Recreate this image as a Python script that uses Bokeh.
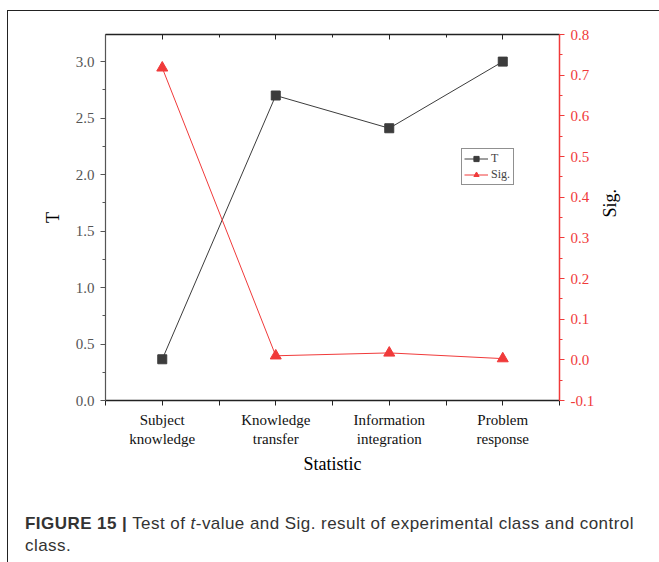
import math
from bokeh.plotting import figure
from bokeh.layouts import column
from bokeh.models import (Range1d, LinearAxis, FixedTicker, SingleIntervalTicker,
                          NumeralTickFormatter, Legend, LegendItem, Div)
from bokeh.embed import file_html
from bokeh.resources import INLINE

categories = ["Subject\nknowledge", "Knowledge\ntransfer", "Information\nintegration", "Problem\nresponse"]
positions = [1, 2, 3, 4]
t_values = [0.365, 2.70, 2.41, 3.00]
sig_values = [0.718, 0.010, 0.017, 0.003]

SERIF = "Liberation Serif"
RED = "#f03a3a"
DARK = "#3c3c3c"

p = figure(width=652, height=475, output_backend="svg", toolbar_location=None,
           x_range=Range1d(0.5, 4.5), y_range=Range1d(0, 3.24),
           min_border_left=97, min_border_right=101, min_border_top=23, min_border_bottom=86,
           x_axis_location=None, y_axis_location=None)
p.grid.visible = False
p.outline_line_color = None
p.background_fill_color = "white"
p.border_fill_color = "white"
p.extra_y_ranges = {"sig": Range1d(-0.1, 0.8)}

xt = FixedTicker(ticks=positions, minor_ticks=[0.5, 1.5, 2.5, 3.5, 4.5])

xaxis = LinearAxis(ticker=xt, axis_label="Statistic",
                   major_label_overrides={pos: lab for pos, lab in zip(positions, categories)})
xaxis.axis_label_text_font = SERIF
xaxis.axis_label_text_font_style = "normal"
xaxis.axis_label_text_font_size = "18px"
xaxis.axis_label_text_color = "black"
xaxis.axis_label_standoff = 4
xaxis.major_label_text_font = SERIF
xaxis.major_label_text_font_size = "15px"
xaxis.major_label_text_color = "#111111"
xaxis.major_label_standoff = 6
xaxis.major_tick_in = 0
xaxis.major_tick_out = 5
xaxis.minor_tick_in = 0
xaxis.minor_tick_out = 5
xaxis.axis_line_color = "#222222"
xaxis.axis_line_width = 1.5
xaxis.major_tick_line_color = "#222222"
xaxis.minor_tick_line_color = "#222222"
p.add_layout(xaxis, "below")

top = LinearAxis(ticker=xt, major_label_overrides={pos: "" for pos in positions})
top.major_tick_in = 5
top.major_tick_out = 0
top.minor_tick_in = 3
top.minor_tick_out = 0
top.axis_line_color = "#222222"
top.axis_line_width = 1.5
top.major_tick_line_color = "#222222"
top.minor_tick_line_color = "#222222"
top.major_label_standoff = 0
p.add_layout(top, "above")

yaxis = LinearAxis(ticker=SingleIntervalTicker(interval=0.5, num_minor_ticks=2),
                   formatter=NumeralTickFormatter(format="0.0"), axis_label="T")
yaxis.axis_label_text_font = SERIF
yaxis.axis_label_text_font_style = "normal"
yaxis.axis_label_text_font_size = "18px"
yaxis.axis_label_text_color = "black"
yaxis.axis_label_standoff = 10
yaxis.major_label_text_font = SERIF
yaxis.major_label_text_font_size = "15px"
yaxis.major_label_text_color = "#555555"
yaxis.major_label_standoff = 6
yaxis.major_tick_in = 0
yaxis.major_tick_out = 5
yaxis.minor_tick_in = 0
yaxis.minor_tick_out = 3
yaxis.axis_line_color = "#555555"
yaxis.axis_line_width = 1.2
yaxis.major_tick_line_color = "#555555"
yaxis.minor_tick_line_color = "#555555"
p.add_layout(yaxis, "left")

raxis = LinearAxis(y_range_name="sig", ticker=SingleIntervalTicker(interval=0.1, num_minor_ticks=2),
                   formatter=NumeralTickFormatter(format="0.0"), axis_label="Sig.")
raxis.axis_label_text_font = SERIF
raxis.axis_label_text_font_style = "normal"
raxis.axis_label_text_font_size = "18px"
raxis.axis_label_text_color = "black"
raxis.axis_label_standoff = 13
raxis.major_label_text_font = SERIF
raxis.major_label_text_font_size = "15px"
raxis.major_label_text_color = RED
raxis.major_label_standoff = 6
raxis.major_tick_in = 0
raxis.major_tick_out = 5
raxis.minor_tick_in = 0
raxis.minor_tick_out = 3
raxis.axis_line_color = RED
raxis.axis_line_width = 1.5
raxis.major_tick_line_color = RED
raxis.minor_tick_line_color = RED
if "axis_label_orientation" in raxis.properties():
    raxis.axis_label_orientation = math.pi / 2
p.add_layout(raxis, "right")

t_line = p.line(positions, t_values, line_color=DARK, line_width=1)
t_mark = p.scatter(positions, t_values, marker="square", size=9, fill_color=DARK, line_color=DARK)
s_line = p.line(positions, sig_values, y_range_name="sig", line_color=RED, line_width=1)
s_mark = p.scatter(positions, sig_values, y_range_name="sig", marker="triangle", size=11,
                   fill_color=RED, line_color=RED)

legend = Legend(items=[LegendItem(label="T", renderers=[t_line, t_mark]),
                       LegendItem(label="Sig.", renderers=[s_line, s_mark])],
                location=(356, 215))
legend.label_text_font = SERIF
legend.label_text_font_size = "12px"
legend.label_height = 12
legend.glyph_height = 13
legend.glyph_width = 24
legend.label_standoff = 3
legend.spacing = 1
legend.padding = 2
legend.margin = 0
legend.border_line_color = "#222222"
legend.border_line_width = 1
legend.background_fill_alpha = 1
p.add_layout(legend, "center")

caption_html = (
    '<div style="font-family: \'Liberation Sans\', Arial, sans-serif; font-size: 17px; '
    'letter-spacing: 0.45px; line-height: 22px; color: #333333; white-space: nowrap;">'
    '<b>FIGURE 15 |</b> Test of <i>t</i>-value and Sig. result of experimental class and control<br>'
    'class.</div>'
)
cap = Div(text=caption_html, width=645, height=75,
          styles={"padding-left": "12px", "padding-top": "22px", "box-sizing": "border-box"})

layout = column(p, cap, margin=(10, 0, 0, 7), spacing=0,
                styles={"border-left": "1.5px solid #222222", "border-top": "1.5px solid #222222"})

open("out.html", "w").write(file_html(layout, INLINE))
